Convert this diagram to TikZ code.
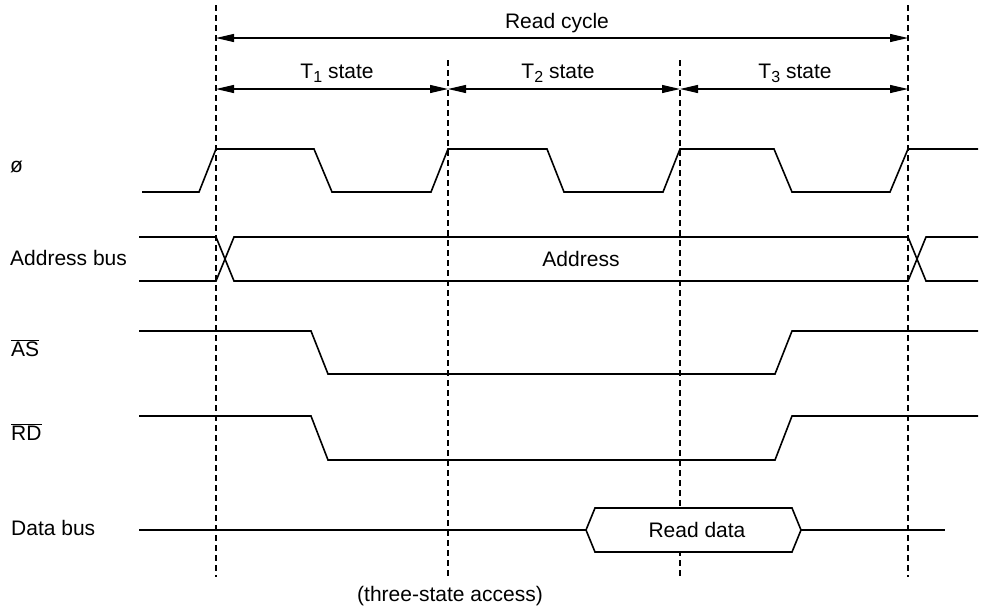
\documentclass[tikz,border=0pt]{standalone}
\usepackage{fontspec}
\setmainfont{Liberation Sans}
\usetikzlibrary{arrows.meta}
\newcommand{\lowsub}[1]{\raisebox{-4pt}{\fontsize{16}{16}\selectfont #1}}

\begin{document}
\begin{tikzpicture}[
  x=1pt,y=-1pt,
  wave/.style={line width=1.6pt,line join=miter},
  guide/.style={line width=1.1pt,dash pattern=on 6pt off 4pt},
  dim/.style={line width=1.1pt,{Triangle[length=18pt,width=8pt]}-{Triangle[length=18pt,width=8pt]}},
  lbl/.style={inner sep=0pt,font=\fontsize{21}{25}\selectfont}
]
\useasboundingbox (0,0) rectangle (988,611);
% state boundaries
\foreach \x/\t in {216/5,448/60,680/60,908/5} { \draw[guide] (\x,\t) -- (\x,577); }
\coordinate (rc0) at (216,38);
\coordinate (rc1) at (908,38);
\coordinate (s0) at (216,89);
\coordinate (s1) at (448,89);
\coordinate (s2) at (680,89);
\coordinate (s3) at (908,89);
\draw[dim] (rc0) -- (rc1);
\draw[dim] (s0) -- (s1);
\draw[dim] (s1) -- (s2);
\draw[dim] (s2) -- (s3);
\node[lbl,anchor=base] (cyc) at (557,28) {Read cycle};
\node[lbl,anchor=base] (st1) at (337,78) {T\lowsub{1} state};
\node[lbl,anchor=base] (st2) at (558,78) {T\lowsub{2} state};
\node[lbl,anchor=base] (st3) at (795,78) {T\lowsub{3} state};
% signal names
\node[lbl,anchor=base west] (phi) at (10,172) {ø};
\node[lbl,anchor=base west] (abus) at (10,265) {Address bus};
\node[lbl,anchor=base west] (as) at (11,356) {$\overline{\mbox{AS}}$};
\node[lbl,anchor=base west] (rd) at (11,440) {$\overline{\mbox{RD}}$};
\node[lbl,anchor=base west] (dbus) at (11,535) {Data bus};
% clock
\draw[wave] (142,192) -- (199,192) -- (216,149) -- (314,149) -- (332,192) -- (431,192)
  -- (448,149) -- (547,149) -- (564,192) -- (663,192) -- (680,149) -- (774,149)
  -- (792,192) -- (890,192) -- (908,149) -- (978,149);
% address bus
\draw[wave] (139,237) -- (216,237) -- (234,281) -- (908,281) -- (926,237) -- (978,237);
\draw[wave] (139,281) -- (216,281) -- (234,237) -- (908,237) -- (926,281) -- (978,281);
\node[lbl,anchor=base] (addr) at (581,266) {Address};
% strobes
\draw[wave] (139,331) -- (311,331) -- (328,374) -- (775,374) -- (792,331) -- (978,331);
\draw[wave] (139,416) -- (311,416) -- (328,460) -- (775,460) -- (792,416) -- (978,416);
% data bus
\draw[wave] (139,530) -- (586,530);
\draw[wave,fill=white] (586,530) -- (595,508) -- (792,508) -- (801,530) -- (792,552) -- (595,552) -- cycle;
\draw[wave] (801,530) -- (945,530);
\node[lbl,anchor=base] (rdata) at (697,537) {Read data};
\node[lbl,anchor=base] (note) at (450,601) {(three-state access)};
\end{tikzpicture}
\end{document}
